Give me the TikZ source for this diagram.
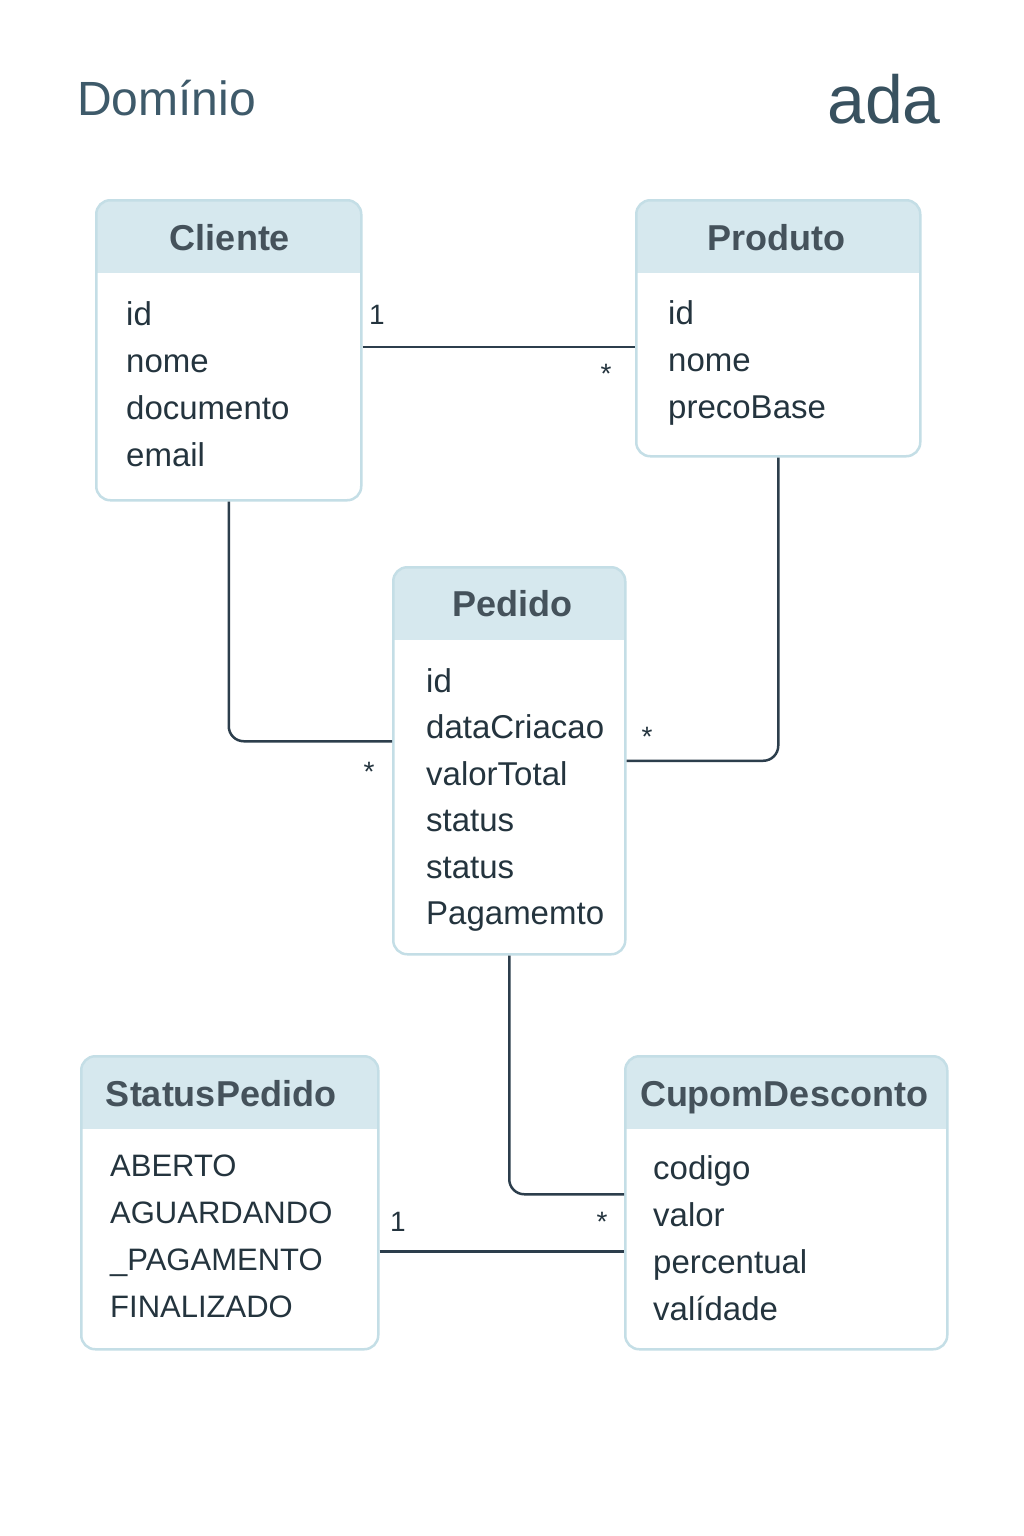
\documentclass[tikz,border=0pt]{standalone}
\usepackage{fontspec}
\setmainfont{Liberation Sans}
\usepackage{tikz}
\usetikzlibrary{positioning}
\definecolor{myink}{RGB}{36,52,62}
\definecolor{myslate}{RGB}{62,90,106}
\definecolor{mylink}{RGB}{44,62,76}
\definecolor{myborder}{RGB}{196,222,230}
\definecolor{hdrblue}{RGB}{214,232,238}
\tikzset{
  classbox/.style={rectangle, draw=myborder, fill=white, rounded corners=14pt,
    line width=2.5pt, anchor=north west, inner sep=0pt,
    path picture={\fill[hdrblue, sharp corners] (path picture bounding box.north west)
      rectangle ([yshift=-73pt]path picture bounding box.north east);}},
  classname/.style={anchor=base, inner sep=0pt, text=myink!85,
    font=\fontsize{36}{40}\selectfont\bfseries},
  attrs/.style={anchor=north west, align=left, inner sep=0pt, text=myink,
    font=\fontsize{33}{47}\selectfont},
  mult/.style={inner sep=0pt, text=myink, font=\fontsize{28}{30}\selectfont},
  link/.style={draw=mylink, line width=2.5pt, rounded corners=15pt}
}
\begin{document}
\begin{tikzpicture}[x=1pt, y=-1pt]
  \useasboundingbox (0,0) rectangle (1023,1536);
  \fill[white] (0,0) rectangle (1023,1536);

  % Titles
  \node[anchor=base west, inner sep=0pt, text=myslate, font=\fontsize{48}{58}\selectfont] (dominio) at (77,116) {Domínio};
  \node[anchor=base east, inner sep=0pt, text=myslate!90!black, font=\fontsize{68}{80}\selectfont] (ada) at (941,124) {ada};

  % Classes
  \node[classbox, minimum width=265pt, minimum height=300pt] (cliente) at (95,199) {};
  \node[classname] (cliente-name) at (230,250) {Cliente};
  \node[attrs] (cliente-attrs) at (126,301) {id\\nome\\documento\\email};

  \node[classbox, minimum width=284pt, minimum height=256pt] (produto) at (635,199) {};
  \node[classname] (produto-name) at (776,250) {Produto};
  \node[attrs] (produto-attrs) at (668,300) {id\\nome\\precoBase};

  \node[classbox, minimum width=232pt, minimum height=387pt] (pedido) at (392,566) {};
  \node[classname] (pedido-name) at (512,616) {Pedido};
  \node[attrs, font=\fontsize{33}{46.5}\selectfont] (pedido-attrs) at (426,668) {id\\dataCriacao\\valorTotal\\status\\status\\Pagamemto};

  \node[classbox, minimum width=297pt, minimum height=293pt] (statuspedido) at (80,1055) {};
  \node[classname] (statuspedido-name) at (221,1106) {StatusPedido};
  \node[attrs, font=\fontsize{31}{47}\selectfont] (statuspedido-attrs) at (110,1155) {ABERTO\\AGUARDANDO\\\_PAGAMENTO\\FINALIZADO};

  \node[classbox, minimum width=322pt, minimum height=293pt] (cupom) at (624,1055) {};
  \node[classname] (cupom-name) at (784,1106) {CupomDesconto};
  \node[attrs] (cupom-attrs) at (653,1155) {codigo\\valor\\percentual\\valídade};

  % Associations
  \draw[link] ([yshift=3.5pt]cliente.east) -- ([yshift=3.5pt]cliente.east -| produto.west);
  \draw[link] (cliente.south) |- ([yshift=19.5pt]pedido.west);
  \draw[link] (produto.south) |- (pedido.east);
  \draw[link] (pedido.south) |- ([yshift=8.5pt]cupom.west);
  \draw[link] ([yshift=-48.5pt]statuspedido.east) -- ([yshift=-48.5pt]statuspedido.east -| cupom.west);

  % Multiplicities
  \node[mult] (m-cliente) at (377,315) {1};
  \node[mult] (m-produto) at (606,374) {*};
  \node[mult] (m-pedido-l) at (369,772) {*};
  \node[mult] (m-pedido-r) at (647,737) {*};
  \node[mult] (m-cupom) at (602,1222) {*};
  \node[mult] (m-status) at (398,1222) {1};
\end{tikzpicture}
\end{document}
